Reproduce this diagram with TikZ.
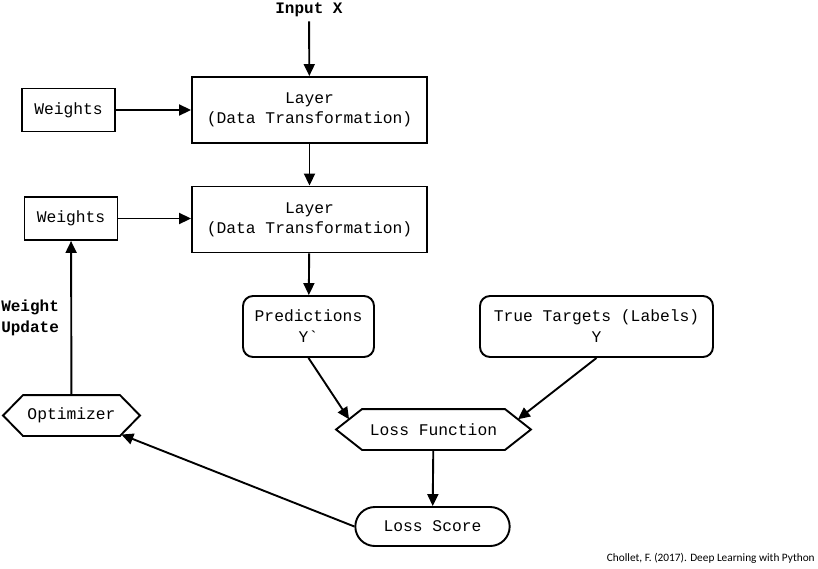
\documentclass[tikz,border=0pt]{standalone}
\usepackage{fontspec}
\setmainfont{Liberation Mono}
\newfontfamily\creditfont{Carlito}
\usetikzlibrary{arrows.meta,positioning,calc,shapes.misc}

\begin{document}
\begin{tikzpicture}[
    x=1pt, y=-1pt,
    line width=1.9pt,
    >={Triangle[length=12pt,width=11pt]},
    lay/.style={draw, minimum width=235pt, minimum height=66pt, align=center, font=\fontsize{16.3}{20}\selectfont},
    wgt/.style={draw, minimum width=93pt, minimum height=43pt, font=\fontsize{16.3}{20}\selectfont},
    pred/.style={draw, rounded corners=10pt, minimum height=61pt, align=center, font=\fontsize{16.3}{21}\selectfont},
    hexa/.style={minimum height=39pt, font=\fontsize{16.3}{20}\selectfont},
    term/.style={draw, rounded rectangle, minimum width=161pt, minimum height=39pt, font=\fontsize{16.3}{20}\selectfont},
    lbl/.style={font=\fontsize{16}{21}\selectfont\bfseries, align=left}
]
\useasboundingbox[fill=white] (0,0) rectangle (818,568);

\node[lbl] (inp) at (309,10) {Input X};
\node[lay] (lay1) at (309.5,110) {Layer\\(Data Transformation)};
\node[wgt] (w1) at (68.5,110) {Weights};
\node[lay] (lay2) at (309.5,219.5) {Layer\\(Data Transformation)};
\node[wgt] (w2) at (71,218.5) {Weights};
\node[pred, minimum width=131pt] (pred) at (308.5,326.5) {Predictions\\Y\textasciigrave};
\node[pred, minimum width=233pt] (true) at (596.5,326.5) {True Targets (Labels)\\Y};
\node[hexa, minimum width=193pt] (lossf) at (433.5,429.5) {Loss Function};
\node[hexa, minimum width=135pt] (opt) at (71.5,415.5) {Optimizer};
\node[term] (lsc) at (432.5,526.5) {Loss Score};
\node[lbl, anchor=west] (upd) at (-3,318) {Weight\\Update};
\node[anchor=south east, font=\creditfont\fontsize{11.3}{13}\selectfont] (cred) at (819,568) {Chollet, F. (2017). Deep Learning with Python};

% hexagon outlines
\draw (lossf.west) -- ([xshift=26pt]lossf.north west) -- ([xshift=-26pt]lossf.north east) -- (lossf.east)
    -- ([xshift=-26pt]lossf.south east) -- ([xshift=26pt]lossf.south west) -- cycle;
\draw (opt.west) -- ([xshift=20pt]opt.north west) -- ([xshift=-20pt]opt.north east) -- (opt.east)
    -- ([xshift=-20pt]opt.south east) -- ([xshift=20pt]opt.south west) -- cycle;
\coordinate (lfl) at ($(lossf.west)!0.5!([xshift=26pt]lossf.north west)$);
\coordinate (lfr) at ($(lossf.east)!0.5!([xshift=-26pt]lossf.north east)$);
\coordinate (obr) at ($(opt.east)!0.93!([xshift=-20pt]opt.south east)$);

\draw[->] (inp) -- (lay1);
\draw[->] (w1.east) -- (w1.east -| lay1.west);
\draw[->] (lay1) -- (lay2);
\draw[->] (w2.east) -- (w2.east -| lay2.west);
\draw[->] (lay2) -- (pred);
\draw[->] (pred.south) -- (lfl);
\draw[->] (true.south) -- (lfr);
\draw[->] (lossf) -- (lsc);
\draw[->] (lsc.west) -- (obr);
\draw[->] (opt) -- (w2);
\end{tikzpicture}
\end{document}
